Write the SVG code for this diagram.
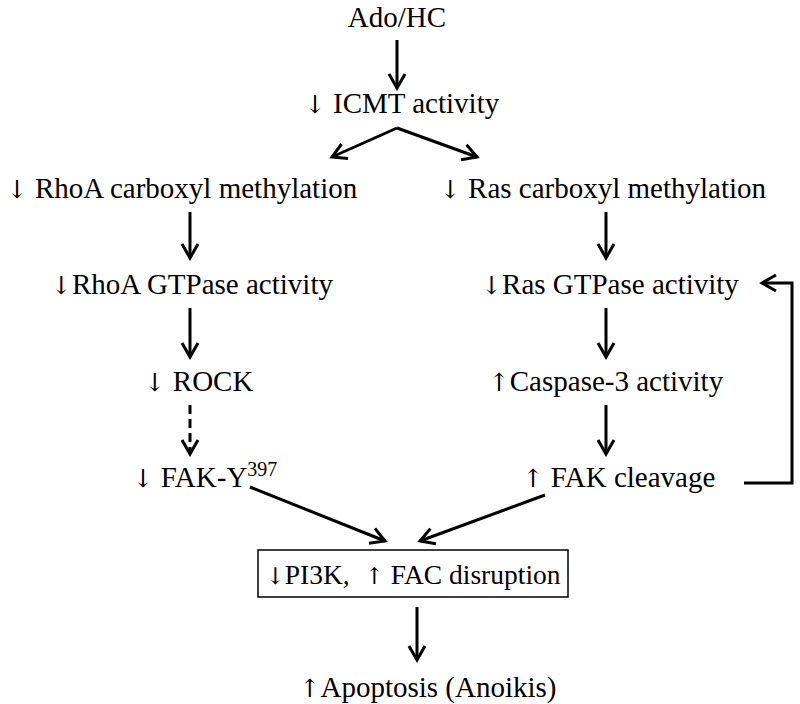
<svg xmlns="http://www.w3.org/2000/svg" width="800" height="704" viewBox="0 0 800 704">
<defs>
<marker id="ah" viewBox="0 0 20 20" refX="17" refY="10" markerWidth="20" markerHeight="20" markerUnits="userSpaceOnUse" orient="auto">
<path d="M3,2 L17,10 L3,18" fill="none" stroke="#000" stroke-width="3"/>
</marker>
</defs>
<style>
text{font-family:"Liberation Serif","Times New Roman",serif;font-size:29px;fill:#000;text-anchor:middle}
.a{font-family:"DejaVu Serif","DejaVu Sans",serif;fill:#000;font-size:25px}
.c line,.c path{stroke:#000;stroke-width:3;fill:none;marker-end:url(#ah)}
</style>
<rect width="800" height="704" fill="#fff"/>
<g id="n_ado"><text x="397" y="27">Ado/HC</text></g>
<g id="n_icmt"><text x="402" y="113"><tspan class="a">↓</tspan> ICMT activity</text></g>
<g id="n_rhoa_cm"><text x="182" y="198"><tspan class="a">↓</tspan> RhoA carboxyl methylation</text></g>
<g id="n_ras_cm"><text x="603" y="198"><tspan class="a">↓</tspan> Ras carboxyl methylation</text></g>
<g id="n_rhoa_gtp"><text x="192" y="294"><tspan class="a">↓</tspan>RhoA GTPase activity</text></g>
<g id="n_ras_gtp"><text x="610" y="294"><tspan class="a">↓</tspan>Ras GTPase activity</text></g>
<g id="n_rock"><text x="199" y="391"><tspan class="a">↓</tspan> ROCK</text></g>
<g id="n_casp"><text x="606" y="391"><tspan class="a">↑</tspan>Caspase-3 activity</text></g>
<g id="n_fak_y"><text x="205" y="487"><tspan class="a">↓</tspan> FAK-Y<tspan dy="-11" style="font-size:20px">397</tspan></text></g>
<g id="n_fak_cl"><text x="619" y="487"><tspan class="a">↑</tspan> FAK cleavage</text></g>
<g id="n_pi3k"><rect x="258" y="550" width="310" height="47" fill="none" stroke="#000" stroke-width="1.5"/><text x="413" y="584" style="font-size:27.5px"><tspan class="a" style="font-size:23px">↓</tspan>PI3K, <tspan class="a" style="font-size:23px" dx="8">↑</tspan> FAC disruption</text></g>
<g id="n_apop"><text x="428" y="697"><tspan class="a">↑</tspan>Apoptosis (Anoikis)</text></g>
<g class="c" id="connectors">
<line x1="397" y1="40" x2="397" y2="88"/>
<line x1="397" y1="128" x2="332" y2="157"/>
<line x1="397" y1="128" x2="477" y2="157"/>
<line x1="190" y1="212" x2="190" y2="258"/>
<line x1="606" y1="212" x2="606" y2="258"/>
<line x1="190" y1="308" x2="190" y2="357"/>
<line x1="190" y1="405" x2="190" y2="454" stroke-dasharray="9,5"/>
<line x1="606" y1="308" x2="606" y2="357"/>
<line x1="606" y1="405" x2="606" y2="454"/>
<path d="M744,483 H792 V283 H762"/>
<line x1="250" y1="487" x2="385" y2="541"/>
<line x1="545" y1="495" x2="420" y2="541"/>
<line x1="417" y1="607" x2="417" y2="660"/>
</g>
</svg>
